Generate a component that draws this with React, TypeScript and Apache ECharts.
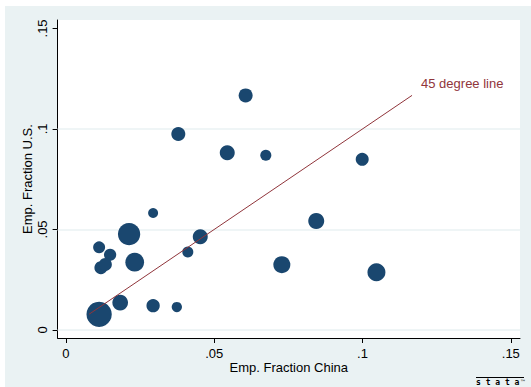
import React, { useEffect, useRef } from "react";
import * as echarts from "echarts";

// Employment fraction in China (x) and in the U.S. (y), marker weight (area)
const chinaShare = [
  0.0112, 0.0183, 0.0294, 0.0374, 0.0112, 0.0149, 0.0118, 0.0133, 0.0213, 0.0232,
  0.0294, 0.0411, 0.0453, 0.0379, 0.0606, 0.0544, 0.0674, 0.0999, 0.0844, 0.0728, 0.1047,
];
const usShare = [
  0.0078, 0.0136, 0.0121, 0.0114, 0.0411, 0.0374, 0.0310, 0.0326, 0.0477, 0.0337,
  0.0582, 0.0388, 0.0464, 0.0975, 0.1167, 0.0882, 0.0869, 0.0849, 0.0542, 0.0325, 0.0287,
];
const weight = [
  6.4, 2.46, 1.77, 1.06, 1.44, 1.51, 1.69, 1.69, 4.97, 3.5,
  1.0, 1.21, 2.25, 1.96, 1.96, 2.25, 1.21, 1.69, 2.56, 2.89, 3.24,
];

const lineEnds = [0.0078, 0.1167];
const lineLabel = "45 degree line";

const xTickValues = [0, 0.05, 0.1, 0.15];
const xTickLabels = ["0", ".05", ".1", ".15"];
const yTickValues = [0, 0.05, 0.1, 0.15];
const yTickLabels = ["0", ".05", ".1", ".15"];
const yGridValues = [0, 0.05, 0.1];

const xTitle = "Emp. Fraction China";
const yTitle = "Emp. Fraction U.S.";

const FONT = "'Liberation Sans', Arial, Helvetica, sans-serif";
const NAVY = "#1a476f";
const MAROON = "#90353b";
const BG = "#eaf2f3";

function lookup(values: number[], labels: string[]) {
  return (v: number) => {
    const i = values.findIndex((t) => Math.abs(t - v) < 1e-9);
    return i >= 0 ? labels[i] : "";
  };
}

export default function App() {
  const ref = useRef<HTMLDivElement>(null);
  useEffect(() => {
    if (!ref.current) return;
    const chart = echarts.init(ref.current, undefined, { renderer: "svg" });
    const pts = chinaShare.map((x, i) => [x, usShare[i], weight[i]]);
    chart.setOption({
      animation: false,
      backgroundColor: "transparent",
      textStyle: { fontFamily: FONT },
      grid: {
        left: 57.6,
        right: 11,
        top: 20,
        bottom: 49,
        show: true,
        backgroundColor: "#ffffff",
        borderWidth: 0,
      },
      xAxis: {
        type: "value",
        min: -0.0028,
        max: 0.1531,
        name: xTitle,
        nameLocation: "middle",
        nameGap: 23,
        nameMoveOverlap: false,
        nameTextStyle: { color: "#000", fontSize: 13, fontFamily: FONT },
        splitLine: { show: false },
        axisLine: { show: true, onZero: false, lineStyle: { color: "#000", width: 1 } },
        axisTick: { show: true, length: 5, customValues: xTickValues, lineStyle: { color: "#000" } },
        axisLabel: {
          customValues: xTickValues,
          formatter: lookup(xTickValues, xTickLabels),
          color: "#000",
          fontSize: 13,
          fontFamily: FONT,
          margin: 9,
        },
      },
      yAxis: {
        type: "value",
        min: -0.004,
        max: 0.1542,
        name: yTitle,
        nameLocation: "middle",
        nameGap: 24,
        nameMoveOverlap: false,
        nameTextStyle: { color: "#000", fontSize: 13, fontFamily: FONT },
        splitLine: { show: false },
        axisLine: { show: true, onZero: false, lineStyle: { color: "#000", width: 1 } },
        axisTick: { show: true, length: 5, customValues: yTickValues, lineStyle: { color: "#000" } },
        axisLabel: {
          customValues: yTickValues,
          formatter: lookup(yTickValues, yTickLabels),
          rotate: 90,
          color: "#000",
          fontSize: 13,
          fontFamily: FONT,
          margin: 9,
        },
      },
      series: [
        {
          type: "scatter",
          data: [],
          z: 1,
          silent: true,
          markLine: {
            silent: true,
            symbol: "none",
            z: 1,
            label: { show: false },
            lineStyle: { color: BG, width: 1.5, type: "solid" },
            data: yGridValues.map((v) => ({ yAxis: v })),
          },
        },
        {
          type: "scatter",
          z: 3,
          data: pts,
          symbol: "circle",
          symbolSize: (v: number[]) => 10 * Math.sqrt(v[2]),
          itemStyle: { color: NAVY, opacity: 1 },
        },
        {
          type: "line",
          z: 4,
          data: lineEnds.map((v) => [v, v]),
          symbol: "none",
          showSymbol: false,
          lineStyle: { color: MAROON, width: 1 },
          endLabel: {
            show: true,
            formatter: lineLabel,
            color: MAROON,
            fontSize: 13,
            fontFamily: FONT,
            distance: 9,
            offset: [0, -12],
          },
        },
      ],
      graphic: [
        {
          type: "line",
          shape: { x1: 476, y1: 377.5, x2: 524, y2: 377.5 },
          style: { stroke: "#000", lineWidth: 1 },
        },
        {
          type: "text",
          x: 476,
          y: 378.5,
          style: {
            text: "s t a t a",
            font: "bold 8px 'DejaVu Sans Mono', monospace",
            fill: "#000",
          },
        },
        {
          type: "text",
          x: 520,
          y: 378,
          style: { text: "™", font: "6px 'DejaVu Sans', sans-serif", fill: "#000" },
        },
      ],
    });
    return () => chart.dispose();
  }, []);

  return (
    <div style={{ position: "fixed", left: 0, top: 0, width: 531, height: 387, background: "#fff" }}>
      <div style={{ position: "absolute", left: 5, top: 6, right: 0, bottom: 0, background: BG }} />
      <div ref={ref} style={{ position: "absolute", left: 0, top: 0, width: 531, height: 387 }} />
    </div>
  );
}
